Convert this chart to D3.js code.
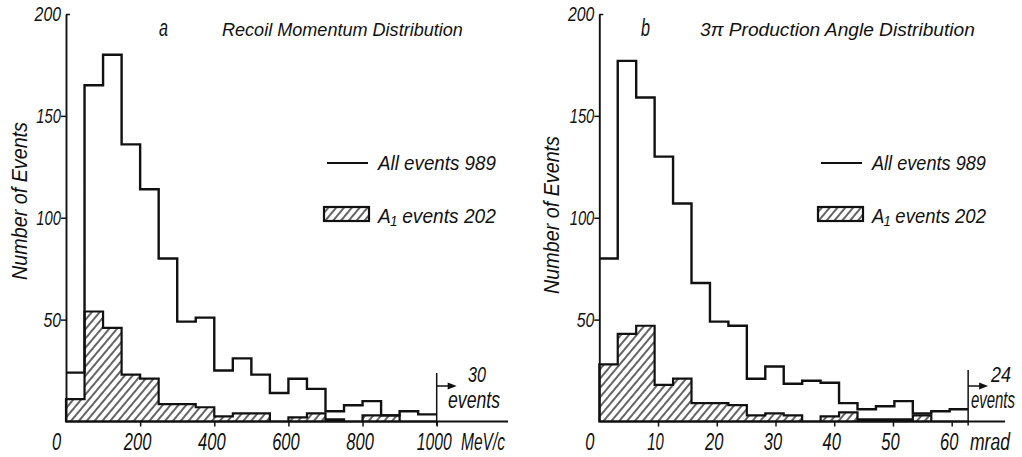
<!DOCTYPE html>
<html>
<head>
<meta charset="utf-8">
<script src="https://cdn.jsdelivr.net/npm/d3@7"></script>
<style>
  body { margin: 0; background: #fff; }
  text { font-family: "Liberation Sans", Arial, sans-serif; font-style: italic; fill: #111; }
</style>
</head>
<body>
<svg id="chart" width="1022" height="457"></svg>
<script>
// Panel a: recoil momentum, bins of 50 MeV/c
const binWidthA = 50;
const allEventsA = [24, 165, 180, 136, 114, 80, 49, 51, 25, 31, 23, 14, 21, 16, 5, 8, 10, 3, 5, 3.5];
const a1EventsA  = [11, 54, 46, 23, 21, 8.5, 8.5, 7, 2.5, 4, 4, 0, 2, 4, 1, 0, 3, 3, 0, 0];
const xTicksA = [0, 200, 400, 600, 800, 1000];

// Panel b: 3pi production angle, bins of ~3.14 mrad
const binWidthB = 3.14;
const allEventsB = [80, 177, 159, 130, 107, 68, 49, 47, 21, 27, 18.5, 20, 19, 9, 6, 7.5, 10, 4, 5, 6];
const a1EventsB  = [28, 43, 47, 18, 21, 9, 9, 8, 3, 4, 3, 0, 2.5, 4.5, 1, 1, 1, 3, 0, 0];
const xTicksB = [0, 10, 20, 30, 40, 50, 60];

const yTicks = [50, 100, 150, 200];

const svg = d3.select("#chart");

// the original lettering is narrow: squeeze each text horizontally to a target width
function squeeze(node, width) {
    const natural = node.getComputedTextLength();
    return natural > 0 ? width / natural : 1;
}

function addText(parent, txt, x, y, size, width, rotate) {
    const t = parent.append("text")
        .style("font-size", size + "px")
        .text(txt);
    const s = squeeze(t.node(), width);
    t.attr("transform", `translate(${x},${y})` + (rotate ? ` rotate(${rotate})` : "") + ` scale(${s},1)`);
    return t;
}

function digitWidth(str, perChar) {
    let w = 0;
    for (const c of String(str)) w += (c === "1" ? perChar * 0.8 : perChar);
    return w;
}

// hatch pattern for the A1 histogram
svg.append("defs").append("pattern")
    .attr("id", "hatch")
    .attr("patternUnits", "userSpaceOnUse")
    .attr("width", 6)
    .attr("height", 6)
    .attr("patternTransform", "rotate(40)")
  .append("line")
    .attr("x1", 1).attr("y1", 0)
    .attr("x2", 1).attr("y2", 6)
    .attr("stroke", "#111")
    .attr("stroke-width", 1.3);

function drawPanel(cfg) {
    const g = svg.append("g");
    const x = d3.scaleLinear().domain(cfg.xDomain).range(cfg.xRange);
    const y = d3.scaleLinear().domain([0, 200]).range([421.5, 14]);

    const edges = cfg.all.map((d, i) => i * cfg.binWidth);
    const lastEdge = cfg.all.length * cfg.binWidth;

    // A1 events: hatched step area
    const a1Pts = cfg.a1.map((v, i) => [edges[i], v]).concat([[lastEdge, 0]]);
    const area = d3.area()
        .x(d => x(d[0]))
        .y0(y(0))
        .y1(d => y(d[1]))
        .curve(d3.curveStepAfter);
    g.append("path")
        .attr("d", area(a1Pts))
        .attr("fill", "url(#hatch)")
        .attr("stroke", "#111")
        .attr("stroke-width", 2.2);

    // All events: step outline
    const allPts = cfg.all.map((v, i) => [edges[i], v]).concat([[lastEdge, cfg.all[cfg.all.length - 1]]]);
    const line = d3.line()
        .x(d => x(d[0]))
        .y(d => y(d[1]))
        .curve(d3.curveStepAfter);
    g.append("path")
        .attr("d", line(allPts))
        .attr("fill", "none")
        .attr("stroke", "#111")
        .attr("stroke-width", 2.4);

    // y axis
    const yAxis = g.append("g")
        .attr("transform", `translate(${x(0)},0)`)
        .call(d3.axisLeft(y).tickValues(yTicks).tickSize(5).tickSizeOuter(0));
    yAxis.select(".domain").attr("stroke", "#111").attr("stroke-width", 1.9);
    yAxis.selectAll(".tick line").attr("stroke", "#111").attr("stroke-width", 1.5)
        .filter(d => d === 200).attr("x2", 4);
    yAxis.selectAll(".tick text")
        .attr("font-family", null)
        .style("font-size", "21px")
        .attr("x", 0)
        .each(function (d) {
            const s = squeeze(this, digitWidth(d, 8.8));
            d3.select(this).attr("transform", `translate(-5,0) scale(${s},1)`);
        });

    // x axis (baseline runs past the last bin)
    g.append("line")
        .attr("x1", x(0)).attr("x2", cfg.baselineEnd)
        .attr("y1", y(0)).attr("y2", y(0))
        .attr("stroke", "#111").attr("stroke-width", 2);
    const xAxis = g.append("g")
        .attr("transform", `translate(0,${y(0)})`)
        .call(d3.axisBottom(x).tickValues(cfg.xTicks).tickFormat(d3.format("d"))
            .tickSize(5).tickSizeOuter(0));
    xAxis.select(".domain").remove();
    xAxis.selectAll(".tick line").attr("stroke", "#111").attr("stroke-width", 1.5)
        .filter(d => d === 0).remove();
    xAxis.selectAll(".tick text")
        .attr("font-family", null)
        .style("font-size", "24px")
        .attr("y", 11)
        .attr("dy", "0.71em")
        .each(function (d) {
            const s = squeeze(this, digitWidth(d, 9.2));
            d3.select(this).attr("transform", `translate(${d === 0 ? -10 : -3},0) scale(${s},1)`);
        });

    addText(g, cfg.unit, cfg.unitX, 450, 24, cfg.unitLen);

    // overflow annotation
    const ox = x(lastEdge);
    g.append("line")
        .attr("x1", ox).attr("x2", ox)
        .attr("y1", cfg.overflowTop).attr("y2", y(0) + 4)
        .attr("stroke", "#111").attr("stroke-width", 1.5);
    g.append("line")
        .attr("x1", ox).attr("x2", ox + 14)
        .attr("y1", 386).attr("y2", 386)
        .attr("stroke", "#111").attr("stroke-width", 1.5);
    g.append("path")
        .attr("d", `M${ox + 20},386 L${ox + 11},382.5 L${ox + 11},389.5 Z`)
        .attr("fill", "#111");
    addText(g, cfg.overflow, cfg.overflowNumX, 382, 22, cfg.overflowNumLen);
    addText(g, "events", cfg.overflowWordX, 407.5, 23, cfg.overflowWordLen);

    // titles
    addText(g, cfg.letter, cfg.letterX, 36, 23, 9);
    addText(g, cfg.title, cfg.titleX, 36, 19, cfg.titleLen);

    // y label
    addText(g, "Number of Events", cfg.yLabelX, cfg.yLabelY, 22, 158, -90)
        .attr("text-anchor", "middle");

    // legend
    g.append("line")
        .attr("x1", cfg.legX + 3).attr("x2", cfg.legX + 44)
        .attr("y1", 163).attr("y2", 163)
        .attr("stroke", "#111").attr("stroke-width", 2);
    addText(g, "All events 989", cfg.legX + 54, 170, 21, cfg.legLen);
    g.append("rect")
        .attr("x", cfg.legX).attr("y", 207)
        .attr("width", 45).attr("height", 14)
        .attr("fill", "url(#hatch)")
        .attr("stroke", "#111").attr("stroke-width", 2.2);
    addText(g, "A\u2081 events 202", cfg.legX + 54, 223, 21, cfg.legLen);
}

drawPanel({
    all: allEventsA, a1: a1EventsA, binWidth: binWidthA,
    xDomain: [0, 1000], xRange: [66, 436.7], xTicks: xTicksA,
    baselineEnd: 508, unit: "MeV/c", unitX: 461, unitLen: 44,
    overflow: "30", overflowTop: 373, overflowNumX: 468, overflowNumLen: 18,
    overflowWordX: 448, overflowWordLen: 52,
    letter: "a", letterX: 159, title: "Recoil Momentum Distribution", titleX: 222, titleLen: 241,
    yLabelX: 27, yLabelY: 201,
    legX: 324, legLen: 118
});

drawPanel({
    all: allEventsB, a1: a1EventsB, binWidth: binWidthB,
    xDomain: [0, 60], xRange: [599.3, 951.7], xTicks: xTicksB,
    baselineEnd: 1005, unit: "mrad", unitX: 970, unitLen: 40,
    overflow: "24", overflowTop: 370, overflowNumX: 991, overflowNumLen: 20,
    overflowWordX: 971, overflowWordLen: 44,
    letter: "b", letterX: 641, title: "3\u03c0 Production Angle Distribution", titleX: 700, titleLen: 275,
    yLabelX: 559, yLabelY: 215,
    legX: 818, legLen: 114
});
</script>
</body>
</html>
